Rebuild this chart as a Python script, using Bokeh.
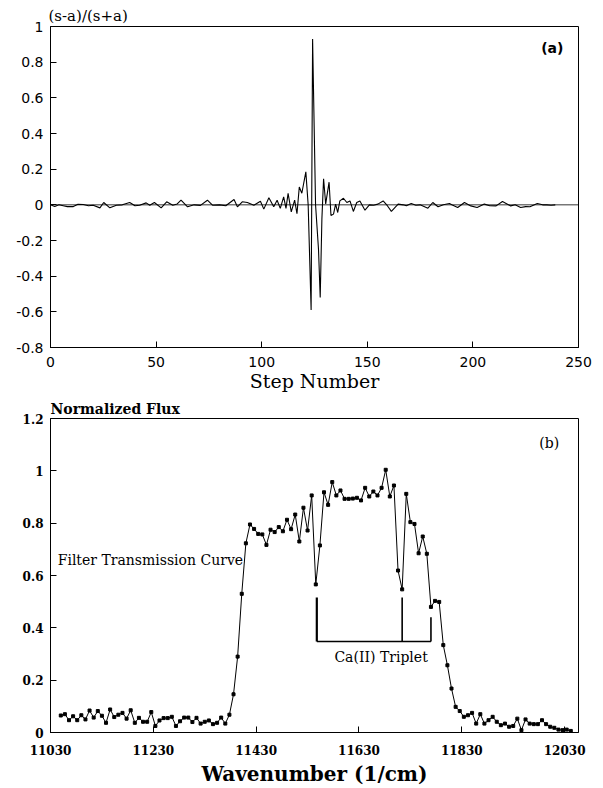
from bokeh.plotting import figure
from bokeh.layouts import column
from bokeh.models import Span, Label, Range1d, FixedTicker, CustomJSTickFormatter
from bokeh.embed import file_html
from bokeh.resources import INLINE

# ---------------- Panel (a): interferogram ----------------
step_number = [0, 2, 4, 6, 8, 10.8, 13, 15.5, 18, 20.2, 23.4, 25.2, 28.1, 31.2, 34, 37.5, 40, 42.2,
               45.3, 47, 49.2, 52.4, 55, 57.9, 60, 61.8, 64.9, 68, 71, 74.3, 76.7, 80, 83, 86.9,
               88.5, 90.8, 93.2, 96.3, 99.4, 101, 103.4, 105.7, 107.3, 108.8, 110.4, 111.5, 112.5,
               114, 115.6, 116.7, 117.8, 119, 120.9, 122, 123.4, 124.1, 125.5, 126.9, 127.7, 128.5,
               129.3, 130.3, 131.9, 132.8, 134, 135, 136, 137, 138.7, 140.3, 141.8, 143.4, 145,
               146.5, 148.9, 151, 153, 155, 157.5, 159.5, 161.4, 164.6, 167, 168.5, 170.8, 173,
               175, 178.7, 181, 183.5, 186, 188.9, 190, 192.8, 196, 199, 202, 205.4, 208, 211, 214,
               217.9, 220, 222.6, 225, 227, 230.5, 233, 235, 237, 239]
ratio = [0.0, -0.01, 0.0, -0.005, -0.01, -0.01, 0.003, 0.002, -0.005, -0.002, -0.017, 0.013, -0.017,
         -0.002, 0.0, 0.013, -0.005, -0.002, 0.011, -0.002, 0.013, -0.017, 0.017, -0.002, 0.005,
         0.026, -0.011, 0.0, -0.003, 0.026, -0.002, 0.0, -0.005, 0.03, -0.011, 0.017, 0.013,
         -0.002, 0.02, -0.024, 0.04, -0.011, 0.026, -0.02, 0.045, -0.02, 0.064, -0.04, 0.026,
         -0.05, 0.1, 0.065, 0.185, 0.0, -0.59, 0.93, 0.0, -0.25, -0.52, -0.08, 0.146, 0.005,
         0.127, -0.06, -0.052, 0.004, -0.043, 0.022, 0.037, 0.013, 0.022, -0.037, 0.013, 0.022,
         -0.03, 0.0, -0.002, 0.004, 0.022, -0.005, -0.037, 0.004, 0.0, -0.005, 0.007, -0.002,
         0.0, -0.019, 0.013, -0.011, 0.0, 0.007, 0.0, -0.015, 0.013, -0.006, -0.015, 0.004,
         -0.005, -0.006, 0.019, -0.006, 0.0, -0.015, -0.01, -0.011, 0.007, 0.0, 0.0, -0.002, 0.0]
top_x_ticks = [0, 50, 100, 150, 200, 250]
top_y_ticks = [-0.8, -0.6, -0.4, -0.2, 0, 0.2, 0.4, 0.6, 0.8, 1]

# ---------------- Panel (b): filter transmission ----------------
wavenumber = [11050, 11058, 11066, 11074, 11082, 11090, 11098, 11106, 11114, 11122,
              11130, 11138, 11146, 11154, 11162, 11170, 11178, 11186, 11194, 11202,
              11210, 11218, 11226, 11234, 11242, 11250, 11258, 11266, 11274, 11282,
              11290, 11298, 11306, 11314, 11322, 11330, 11338, 11346, 11354, 11362,
              11370, 11378, 11386, 11394, 11402, 11410, 11418, 11426, 11434, 11442,
              11450, 11458, 11466, 11474, 11482, 11490, 11498, 11506, 11514, 11522,
              11530, 11538, 11546, 11554, 11562, 11570, 11578, 11586, 11594, 11602,
              11610, 11618, 11626, 11634, 11642, 11650, 11658, 11666, 11674, 11682,
              11690, 11698, 11706, 11714, 11722, 11730, 11738, 11746, 11754, 11762,
              11770, 11778, 11786, 11794, 11802, 11810, 11818, 11826, 11834, 11842,
              11850, 11858, 11866, 11874, 11882, 11890, 11898, 11906, 11914, 11922,
              11930, 11938, 11946, 11954, 11962, 11970, 11978, 11986, 11994, 12002,
              12010, 12018, 12026, 12034, 12042]
flux = [0.065, 0.070, 0.047, 0.062, 0.047, 0.066, 0.050, 0.084, 0.057, 0.082,
        0.064, 0.037, 0.088, 0.059, 0.068, 0.075, 0.053, 0.085, 0.037, 0.056,
        0.041, 0.041, 0.078, 0.025, 0.046, 0.055, 0.055, 0.060, 0.025, 0.043,
        0.057, 0.057, 0.040, 0.056, 0.034, 0.041, 0.046, 0.032, 0.037, 0.057,
        0.034, 0.068, 0.146, 0.290, 0.530, 0.723, 0.795, 0.778, 0.759, 0.757,
        0.717, 0.775, 0.766, 0.785, 0.769, 0.813, 0.777, 0.833, 0.730, 0.859,
        0.772, 0.906, 0.566, 0.715, 0.918, 0.870, 0.957, 0.906, 0.925, 0.893,
        0.893, 0.894, 0.897, 0.887, 0.935, 0.902, 0.921, 0.906, 0.935, 1.004,
        0.902, 0.944, 0.619, 0.547, 0.912, 0.804, 0.797, 0.685, 0.749, 0.683,
        0.480, 0.503, 0.499, 0.334, 0.257, 0.168, 0.098, 0.082, 0.060, 0.066,
        0.075, 0.034, 0.070, 0.034, 0.047, 0.060, 0.041, 0.028, 0.034, 0.022,
        0.025, 0.053, 0.009, 0.050, 0.034, 0.032, 0.032, 0.047, 0.032, 0.022,
        0.018, 0.011, 0.009, 0.011, 0.006]
triplet_wn = [11548, 11714, 11770]
triplet_top = [0.516, 0.516, 0.44]
triplet_base = 0.348
bot_x_ticks = [11030, 11230, 11430, 11630, 11830, 12030]
bot_y_ticks = [0, 0.2, 0.4, 0.6, 0.8, 1, 1.2]

fmt = CustomJSTickFormatter(code="return (Math.round(tick*10)/10).toString();")


def style(p, xt, yt, font, fstyle, size):
    p.outline_line_color = "black"
    p.outline_line_width = 1
    p.xgrid.visible = False
    p.ygrid.visible = False
    for ax, ticks in ((p.xaxis[0], xt), (p.yaxis[0], yt)):
        ax.ticker = FixedTicker(ticks=ticks)
        ax.minor_tick_line_color = None
        ax.major_tick_in = 6
        ax.major_tick_out = 0
        ax.major_tick_line_color = "black"
        ax.axis_line_color = "black"
        ax.major_label_text_font = font
        ax.major_label_text_font_style = fstyle
        ax.major_label_text_font_size = size
        ax.major_label_text_color = "black"
        ax.major_label_standoff = 7
        ax.axis_label_text_color = "black"
    p.yaxis[0].formatter = fmt


top = figure(width=600, height=395, output_backend="svg", toolbar_location=None,
             x_range=Range1d(0, 250), y_range=Range1d(-0.8, 1),
             title="(s-a)/(s+a)",
             min_border_left=47, min_border_right=22, min_border_top=26, min_border_bottom=48)
top.title.align = "left"
top.title.offset = -2
top.title.standoff = 4
top.title.text_font = "DejaVu Serif"
top.title.text_font_style = "normal"
top.title.text_font_size = "15px"
top.title.text_color = "black"
style(top, top_x_ticks, top_y_ticks, "DejaVu Sans", "normal", "14px")
top.xaxis[0].major_label_standoff = 9
top.xaxis[0].axis_label = "Step Number"
top.xaxis[0].axis_label_text_font = "DejaVu Serif"
top.xaxis[0].axis_label_text_font_style = "normal"
top.xaxis[0].axis_label_text_font_size = "19px"
top.xaxis[0].axis_label_standoff = 0
top.add_layout(Span(location=0, dimension="width", line_color="black", line_width=0.8))
top.line(step_number, ratio, line_color="black", line_width=1.1)
top.add_layout(Label(x=237.6, y=0.877, text="(a)", text_font="DejaVu Sans",
                     text_font_style="bold", text_font_size="14px", text_align="center",
                     text_baseline="middle", text_color="black"))

bot = figure(width=600, height=393, output_backend="svg", toolbar_location=None,
             x_range=Range1d(11030, 12057), y_range=Range1d(0, 1.2),
             title="Normalized Flux",
             min_border_left=50, min_border_right=10, min_border_top=23, min_border_bottom=56)
bot.title.align = "left"
bot.title.offset = 0
bot.title.standoff = 4
bot.title.text_font = "DejaVu Serif"
bot.title.text_font_style = "bold"
bot.title.text_font_size = "14px"
bot.title.text_color = "black"
style(bot, bot_x_ticks, bot_y_ticks, "DejaVu Serif", "bold", "12px")
bot.xaxis[0].major_label_standoff = 12
bot.xaxis[0].axis_label = "Wavenumber (1/cm)"
bot.xaxis[0].axis_label_text_font = "DejaVu Serif"
bot.xaxis[0].axis_label_text_font_style = "bold"
bot.xaxis[0].axis_label_text_font_size = "20px"
bot.xaxis[0].axis_label_standoff = 4
bot.line(wavenumber, flux, line_color="black", line_width=1)
bot.scatter(wavenumber, flux, marker="square", size=3, color="black")
bot.segment(x0=triplet_wn, y0=[triplet_base] * 3, x1=triplet_wn, y1=triplet_top,
            line_color="black", line_width=[2.2, 1.6, 1.6])
bot.segment(x0=[min(triplet_wn)], y0=[triplet_base], x1=[max(triplet_wn)], y1=[triplet_base],
            line_color="black", line_width=1.6)
bot.add_layout(Label(x=11673, y=0.288, text="Ca(II) Triplet", text_font="DejaVu Serif",
                     text_font_size="14px", text_align="center", text_baseline="middle",
                     text_color="black"))
bot.add_layout(Label(x=11044, y=0.658, text="Filter Transmission Curve", text_font="DejaVu Serif",
                     text_font_size="14px", text_align="left", text_baseline="middle",
                     text_color="black"))
bot.add_layout(Label(x=12000, y=1.105, text="(b)", text_font="DejaVu Serif",
                     text_font_size="14px", text_align="center", text_baseline="middle",
                     text_color="black"))

layout = column(top, bot, spacing=0)
open("out.html", "w").write(file_html(layout, INLINE))
